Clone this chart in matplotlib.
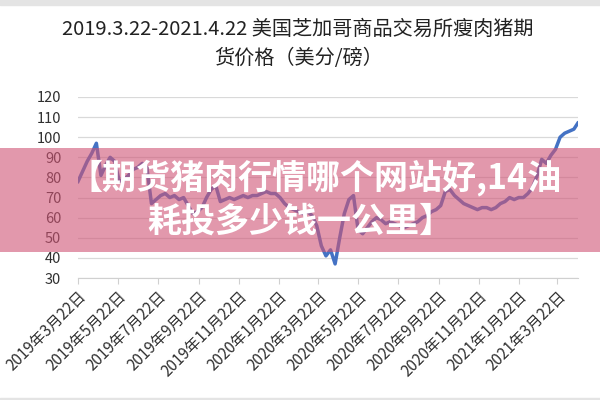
import matplotlib
matplotlib.use("Agg")
import matplotlib.pyplot as plt
from matplotlib.patches import Rectangle
import pandas as pd

plt.rcParams['font.family'] = ['Noto Sans CJK SC', 'DejaVu Sans']

title = "2019.3.22-2021.4.22 美国芝加哥商品交易所瘦肉猪期\n货价格（美分/磅）"
banner_1 = "【期货猪肉行情哪个网站好,14油"
banner_2 = "耗投多少钱一公里】"

# weekly readings, from 2019-03-22, last one on 2021-04-22
dates = list(pd.date_range("2019-03-22", periods=109, freq="7D")) + [pd.Timestamp("2021-04-22")]
prices = [
    78, 83, 88, 92, 97, 81, 86, 90, 88, 78,
    79, 81, 84, 85, 87, 85, 67, 69, 71, 72,
    70, 71, 69, 70, 66, 62, 63, 65, 70, 74,
    76, 68, 69, 70, 69, 70, 71, 70, 71, 71,
    72, 73, 72, 72, 70, 67, 65, 64, 63, 62,
    63, 61, 56, 46, 41, 44, 37, 50, 62, 69,
    71, 54, 52, 55, 58, 60, 59, 57, 58, 57,
    56, 55, 56, 57, 58, 60, 61, 63, 64, 66,
    73, 74, 71, 69, 67, 66, 65, 64, 65, 65,
    64, 65, 67, 68, 70, 69, 70, 70, 72, 75,
    81, 89, 87, 91, 94, 100, 102, 103, 104, 107,
]

tick_dates = pd.date_range("2019-03-22", periods=13, freq=pd.DateOffset(months=2))
tick_labels = [f"{d.year}年{d.month}月{d.day}日" for d in tick_dates]
y_ticks = [30, 40, 50, 60, 70, 80, 90, 100, 110, 120]

fig = plt.figure(figsize=(6, 4), dpi=100)
ax = fig.add_axes([0.13, 0.305, 0.833, 0.4525])

ax.plot(dates, prices, color="#4472C4", lw=2.5, solid_joinstyle="round")

ax.set_xlim(pd.Timestamp("2019-03-22"), pd.Timestamp("2021-04-22"))
ax.set_ylim(30, 120)
ax.set_yticks(y_ticks)
ax.set_xticks(tick_dates)
ax.set_xticklabels(tick_labels, rotation=45, ha="right", rotation_mode="anchor",
                   fontsize=11, color="#303030")
ax.tick_params(axis="y", length=0, labelsize=10.5, labelcolor="#303030", pad=12)
ax.tick_params(axis="x", length=4, color="#D0D0D0", pad=3)
ax.grid(axis="y", color="#D9D9D9", lw=0.9)
ax.set_axisbelow(True)
for s in ["top", "right", "left"]:
    ax.spines[s].set_visible(False)
ax.spines["bottom"].set_color("#D0D0D0")

fig.text(0.497, 0.89, title, ha="center", va="center", fontsize=14.5,
         color="#222222", linespacing=1.5)

# screenshot frame strips
fig.patches.append(Rectangle((0, 0.988), 1, 0.012, transform=fig.transFigure,
                             color="#E4E4E4", zorder=0))
fig.patches.append(Rectangle((0, 0), 1, 0.006, transform=fig.transFigure,
                             color="#E4E4E4", zorder=0))

# pink banner across the middle
fig.patches.append(Rectangle((0, 1 - 252 / 400), 1, 104 / 400, transform=fig.transFigure,
                             facecolor="#D05475", alpha=0.6, zorder=5))
fig.text(0.525, 1 - 178 / 400, banner_1, ha="center", va="center", fontsize=24.5,
         fontweight="bold", color="white", zorder=6)
fig.text(0.5, 1 - 221 / 400, banner_2, ha="center", va="center", fontsize=24.5,
         fontweight="bold", color="white", zorder=6)

fig.savefig("out.png", dpi=100)
